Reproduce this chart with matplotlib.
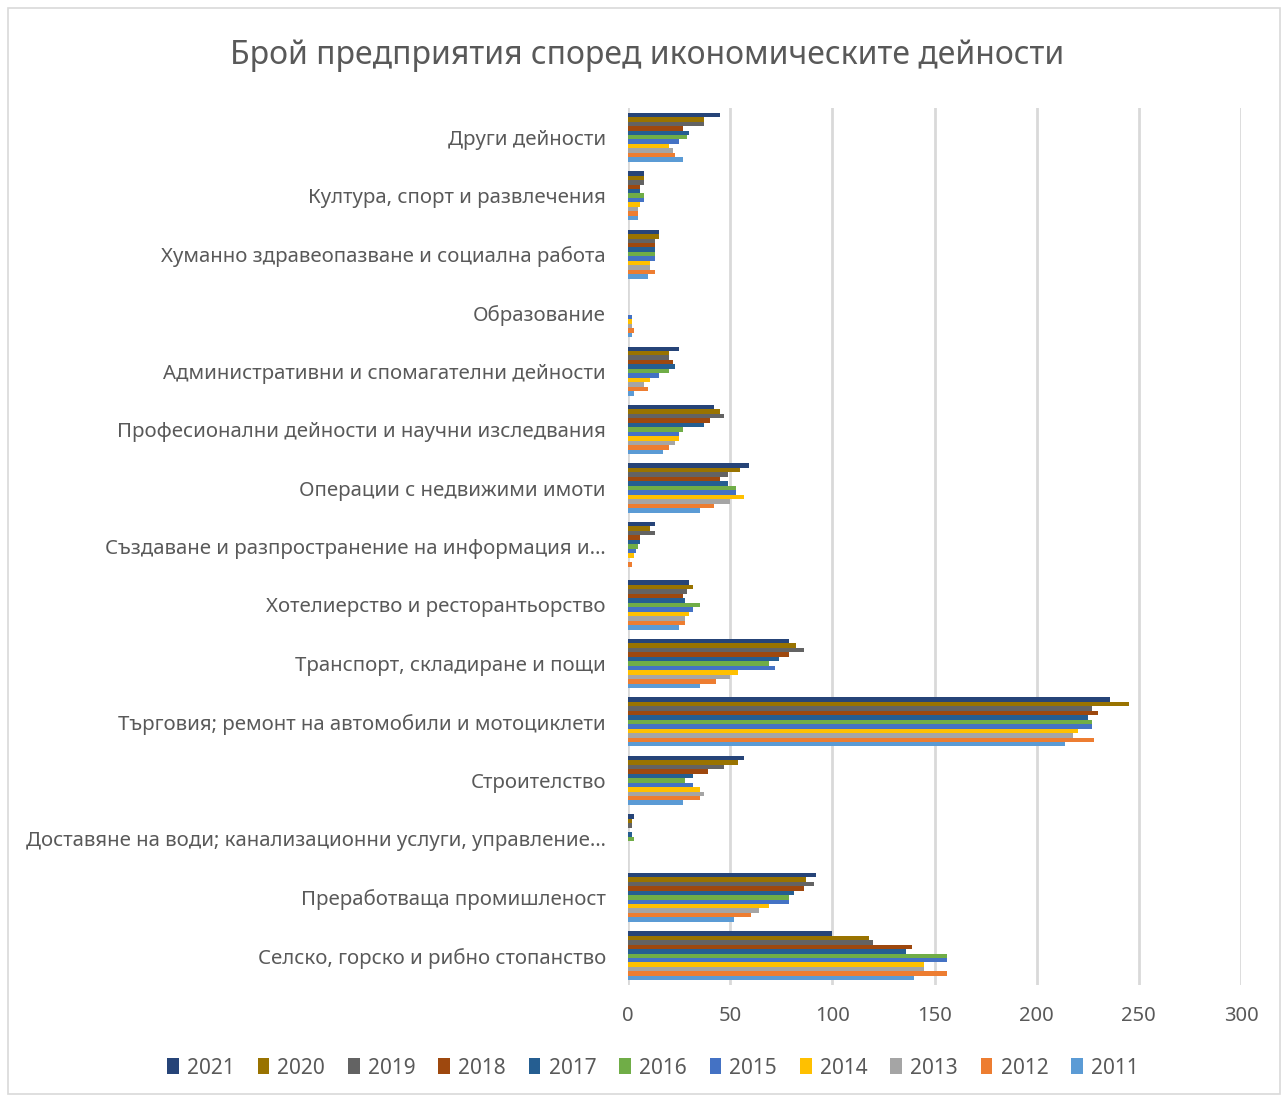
import matplotlib
matplotlib.use("Agg")
import matplotlib.pyplot as plt
from matplotlib.patches import Rectangle, Patch

plt.rcParams['font.family'] = ['Noto Sans', 'DejaVu Sans']

categories = [
    "Селско, горско и рибно стопанство",
    "Преработваща промишленост",
    "Доставяне на води; канализационни услуги, управление…",
    "Строителство",
    "Търговия; ремонт на автомобили и мотоциклети",
    "Транспорт, складиране и пощи",
    "Хотелиерство и ресторантьорство",
    "Създаване и разпространение на информация и…",
    "Операции с недвижими имоти",
    "Професионални дейности и научни изследвания",
    "Административни и спомагателни дейности",
    "Образование",
    "Хуманно здравеопазване и социална работа",
    "Култура, спорт и развлечения",
    "Други дейности",
]

years = ["2011", "2012", "2013", "2014", "2015", "2016", "2017", "2018", "2019", "2020", "2021"]

v2011 = [140, 52, 0, 27, 214, 35, 25, 0, 35, 17, 3, 2, 10, 5, 27]
v2012 = [156, 60, 0, 35, 228, 43, 28, 2, 42, 20, 10, 3, 13, 5, 23]
v2013 = [145, 64, 0, 37, 218, 50, 28, 0, 50, 23, 8, 2, 11, 5, 22]
v2014 = [145, 69, 0, 35, 220, 54, 30, 3, 57, 25, 11, 2, 11, 6, 20]
v2015 = [156, 79, 0, 32, 227, 72, 32, 4, 53, 25, 15, 2, 13, 8, 25]
v2016 = [156, 79, 3, 28, 227, 69, 35, 5, 53, 27, 20, 0, 13, 8, 29]
v2017 = [136, 81, 2, 32, 225, 74, 28, 6, 49, 37, 23, 0, 13, 6, 30]
v2018 = [139, 86, 0, 39, 230, 79, 27, 6, 45, 40, 22, 0, 13, 6, 27]
v2019 = [120, 91, 2, 47, 227, 86, 29, 13, 49, 47, 20, 0, 13, 8, 37]
v2020 = [118, 87, 2, 54, 245, 82, 32, 11, 55, 45, 20, 0, 15, 8, 37]
v2021 = [100, 92, 3, 57, 236, 79, 30, 13, 59, 42, 25, 0, 15, 8, 45]

series = [v2011, v2012, v2013, v2014, v2015, v2016, v2017, v2018, v2019, v2020, v2021]
colors = ["#5B9BD5", "#ED7D31", "#A5A5A5", "#FFC000", "#4472C4", "#70AD47",
          "#255E91", "#9E480E", "#636363", "#997300", "#264478"]

W, H = 1288, 1102
fig = plt.figure(figsize=(W / 100, H / 100), dpi=100)
fig.patch.set_facecolor("white")
fig.add_artist(Rectangle((8 / W, 8 / H), 1 - 16 / W, 1 - 16 / H, transform=fig.transFigure,
                         fill=False, edgecolor="#D9D9D9", linewidth=1.2))

ax = fig.add_axes([628 / W, 1 - 985 / H, (1241 - 628) / W, (985 - 108) / H])

n = len(series)
group = 0.84
h = group / n
for j, vals in enumerate(series):
    ys = [i - group / 2 + h * (j + 0.5) for i in range(len(categories))]
    ax.barh(ys, vals, height=h, color=colors[j], label=years[j], zorder=3)

ax.set_ylim(-0.5, len(categories) - 0.5)
ax.set_xlim(0, 300)
ax.set_xticks(range(0, 301, 50))
ax.set_yticks(range(len(categories)))
ax.set_yticklabels(categories)
ax.tick_params(axis="y", length=0, pad=16, labelsize=14.7, labelcolor="#595959")
ax.tick_params(axis="x", length=0, pad=15, labelsize=14.5, labelcolor="#595959")
ax.grid(axis="x", color="#D9D9D9", linewidth=2, zorder=0)
for s in ax.spines.values():
    s.set_visible(False)

fig.text(647 / W, 1 - 56 / H, "Брой предприятия според икономическите дейности",
         ha="center", va="center", fontsize=23, color="#595959")

handles = [Patch(facecolor=colors[j], label=years[j]) for j in range(n - 1, -1, -1)]
fig.legend(handles=handles, loc="center", bbox_to_anchor=(653 / W, 1 - 1068 / H), ncol=n,
           frameon=False, fontsize=15, labelcolor="#595959", handlelength=0.55, handleheight=0.8,
           handletextpad=0.4, columnspacing=1.1)

fig.savefig("out.png", dpi=100, facecolor="white")
